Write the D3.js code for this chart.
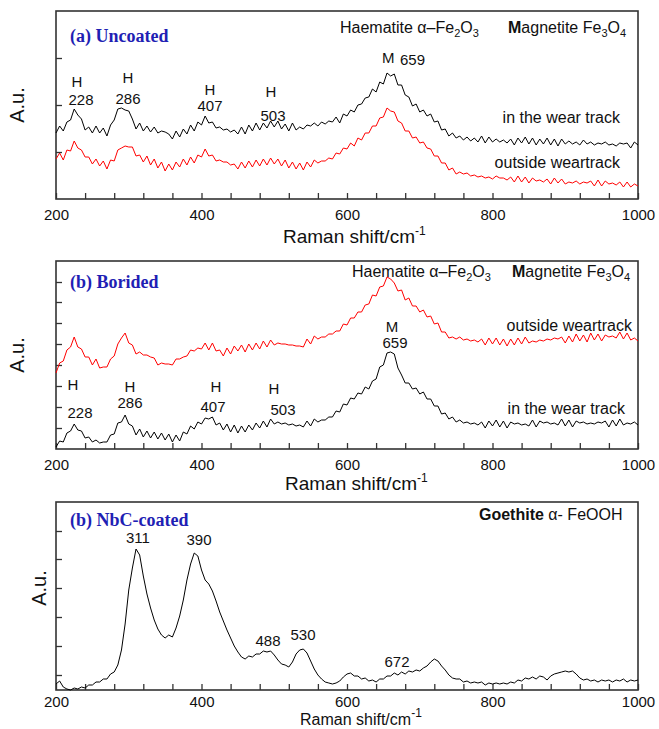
<!DOCTYPE html>
<html>
<head>
<meta charset="utf-8">
<script src="https://cdn.jsdelivr.net/npm/d3@7"></script>
<style>
body{margin:0;background:#fff;}
text{fill:#111;}
</style>
</head>
<body>
<script>
//raman shift grid, one reading every 5 cm-1
var wn = d3.range(200, 1001, 5);

//(a) uncoated
var uncoatedInTrack = [66,73,68,77,79,90,84,80,69,72,66,
	73,66,71,63,74,79,90,91,89,88,
	80,70,76,68,73,67,72,66,68,67,
	65,60,68,62,70,65,74,68,77,74,
	83,76,77,71,72,69,70,67,69,65,
	72,65,74,68,76,69,76,71,78,72,
	78,70,75,68,76,69,72,70,74,73,
	76,73,77,75,78,77,82,76,85,83,
	89,87,94,95,101,102,110,107,117,115,
	126,123,125,114,114,104,102,93,95,87,
	89,83,85,77,78,69,70,63,66,61,
	63,59,62,58,61,57,63,56,62,57,
	60,57,59,56,60,54,61,56,62,55,
	61,54,60,55,61,54,60,53,60,55,
	58,55,57,54,59,55,57,54,56,55,
	57,54,55,53,56,55,56,51,57,54];
var uncoatedOutside = [40,46,39,49,48,58,51,49,42,42,35,
	40,33,38,30,39,38,49,51,53,52,
	52,43,44,37,43,34,40,31,37,28,
	35,29,37,32,40,34,42,36,44,42,
	50,43,44,38,39,37,37,34,35,30,
	37,31,38,32,39,33,40,34,41,35,
	40,33,39,31,37,30,36,29,37,32,
	39,36,38,38,41,40,46,45,51,50,
	56,53,61,59,66,66,73,73,81,82,
	91,88,87,78,76,68,68,61,62,56,
	57,51,50,43,43,36,36,29,31,25,
	27,25,26,23,24,22,23,21,22,20,
	23,21,21,19,22,17,23,17,22,16,
	21,18,19,17,20,15,21,16,20,15,
	17,16,18,15,17,16,18,13,19,13,
	18,15,16,14,17,12,17,12,15,13];

//(b) borided
var boridedOutside = [76,86,88,99,102,112,102,100,92,92,84,
	90,81,82,82,90,93,105,111,116,106,
	104,95,97,94,94,92,91,84,86,85,
	85,84,90,90,92,93,99,98,101,100,
	106,99,106,98,99,93,101,95,103,98,
	104,97,105,99,106,100,108,102,109,104,
	106,105,105,104,104,103,103,102,110,105,
	113,110,112,112,115,115,118,118,125,124,
	131,131,137,137,144,145,154,153,162,163,
	172,170,166,158,159,149,151,143,143,137,
	139,132,133,125,126,117,117,111,112,110,
	112,109,110,108,109,107,110,104,111,105,
	111,104,110,103,110,104,111,105,112,106,
	108,107,109,108,110,109,111,110,112,106,
	113,107,115,108,114,107,116,109,115,108,
	114,112,113,111,117,110,116,109,111,108];
var boridedInTrack = [2,8,7,16,18,25,19,18,11,12,7,
	9,6,7,7,14,15,26,27,34,25,
	23,14,20,12,18,11,17,10,16,9,
	15,7,14,8,17,15,23,20,27,25,
	31,30,32,24,26,19,25,17,24,16,
	23,17,24,19,26,21,28,22,30,25,
	27,25,26,24,25,23,24,22,28,23,
	30,27,29,29,32,32,38,37,45,44,
	51,50,56,55,62,60,68,70,82,84,
	96,97,95,81,74,66,66,60,61,55,
	57,50,50,43,43,35,36,30,32,27,
	29,26,27,25,26,24,27,21,28,23,
	29,22,28,21,27,25,26,24,25,23,
	29,22,28,26,27,25,26,24,30,23,
	29,22,28,26,27,25,26,25,27,26,
	28,22,29,23,30,24,26,25,27,24];

//(c) NbC coated
var nbcCoated = [6,9,3,1,0,2,1,3,2,5,5,
	8,8,11,11,16,18,25,40,66,100,
	122,141,135,114,96,82,70,61,55,52,
	55,53,62,74,90,110,126,137,134,120,
	110,106,99,89,78,69,60,52,44,38,
	33,31,34,33,36,36,39,38,39,35,
	30,26,25,23,28,36,40,41,37,29,
	21,15,11,8,7,6,7,9,13,16,
	17,14,14,11,12,9,10,8,11,11,
	14,14,17,15,18,16,19,18,20,19,
	22,24,28,31,29,24,20,15,12,11,
	11,8,9,7,8,7,8,5,7,6,
	7,6,7,6,8,7,10,9,12,11,
	13,11,14,13,10,14,16,17,18,19,
	18,19,16,12,10,11,9,10,8,10,
	9,10,8,10,9,11,8,10,9,10];

var xTicks = [200,240,280,320,360,400,440,480,520,560,600,640,680,720,760,800,840,880,920,960,1000];
var xTickLabels = [200,400,600,800,1000];
var yTicksA = [47,94,141];
var yTicksB = [21,42,63,84,105,126,147,167];
var yTicksC = [15,44,73,102,131,159];

var sans = 'Liberation Sans, Arial, sans-serif';
var svg = d3.select('body').append('svg').attr('width',659).attr('height',729)
	.style('font-family',sans);
var x = d3.scaleLinear().domain([200,1000]).range([56,638]);

//draw frame, axes and return the y scale
function drawPanel(top,bottom,yTicks,pad){
	var y = d3.scaleLinear().domain([0,188]).range([bottom,top]);
	var g = svg.append('g');
	var xa = g.append('g').attr('transform','translate(0,' + bottom + ')')
		.call(d3.axisBottom(x).tickValues(xTicks).tickSize(-6).tickPadding(pad||10)
			.tickFormat(function(d){return xTickLabels.indexOf(d) !== -1 ? d : ''}));
	g.append('g').attr('transform','translate(56,0)')
		.call(d3.axisLeft(y).tickValues(yTicks).tickSize(-6).tickFormat(''));
	g.selectAll('.domain').remove();
	g.selectAll('.tick line').attr('stroke','#333').attr('stroke-width',1.3);
	xa.selectAll('text').attr('font-size',15).attr('font-family',sans).attr('fill','#111');
	g.append('rect').attr('x',56).attr('y',top).attr('width',582).attr('height',bottom-top)
		.attr('fill','none').attr('stroke','#333').attr('stroke-width',1.6);
	return y;
}

function drawLine(y,values,color){
	var line = d3.line().x(function(d,i){return x(wn[i])}).y(function(d){return y(d)});
	svg.append('path').datum(values).attr('d',line).attr('fill','none')
		.attr('stroke',color).attr('stroke-width',1).attr('stroke-linejoin','round');
}

function txt(xp,yp,s,size,anchor){
	return svg.append('text').attr('x',xp).attr('y',yp).attr('font-size',size||15)
		.attr('text-anchor',anchor||'start').text(s);
}

function title(yp,s){
	svg.append('text').attr('x',70).attr('y',yp).style('font-family','Liberation Serif, serif')
		.attr('font-weight','bold').attr('font-size',18).style('fill','#1f1fb4').text(s);
}

function xLabel(xp,yp,size){
	var t = svg.append('text').attr('x',xp).attr('y',yp).attr('font-size',size||19);
	t.append('tspan').text('Raman shift/cm');
	t.append('tspan').attr('dy',-8).attr('font-size',12).text('-1');
}

function yLabel(xp,yp){
	svg.append('text').attr('transform','translate(' + xp + ',' + yp + ') rotate(-90)')
		.attr('text-anchor','middle').attr('font-size',20).text('A.u.');
}

function oxides(xh,xm,yp){
	var t = svg.append('text').attr('x',xh).attr('y',yp).attr('font-size',16);
	t.append('tspan').text('Haematite α–Fe');
	t.append('tspan').attr('dy',4).attr('font-size',11).text('2');
	t.append('tspan').attr('dy',-4).text('O');
	t.append('tspan').attr('dy',4).attr('font-size',11).text('3');
	var m = svg.append('text').attr('x',xm).attr('y',yp).attr('font-size',16);
	m.append('tspan').attr('font-weight','bold').text('M');
	m.append('tspan').text('agnetite Fe');
	m.append('tspan').attr('dy',4).attr('font-size',11).text('3');
	m.append('tspan').attr('dy',-4).text('O');
	m.append('tspan').attr('dy',4).attr('font-size',11).text('4');
}

//(a) uncoated
var ya = drawPanel(11,199,yTicksA);
drawLine(ya,uncoatedOutside,'#ff0000');
drawLine(ya,uncoatedInTrack,'#000');
title(42,'(a) Uncoated');
oxides(340,508,33);
txt(77,87,'H',15,'middle'); txt(81,105,'228',15,'middle');
txt(128,83,'H',15,'middle'); txt(128,104,'286',15,'middle');
txt(210,95,'H',15,'middle'); txt(210,111,'407',15,'middle');
txt(271,97,'H',15,'middle'); txt(273,121,'503',15,'middle');
txt(382,63,'M',15); txt(400,65,'659',15);
txt(620,123,'in the wear track',16,'end');
txt(620,168,'outside weartrack',16,'end');
xLabel(283,243);
yLabel(24,105);

//(b) borided
var yb = drawPanel(261,449,yTicksB);
drawLine(yb,boridedOutside,'#ff0000');
drawLine(yb,boridedInTrack,'#000');
title(288,'(b) Borided');
oxides(352,512,277);
txt(73,390,'H',15,'middle'); txt(80,418,'228',15,'middle');
txt(130,392,'H',15,'middle'); txt(130,408,'286',15,'middle');
txt(216,392,'H',15,'middle'); txt(213,412,'407',15,'middle');
txt(274,394,'H',15,'middle'); txt(283,415,'503',15,'middle');
txt(392,332,'M',15,'middle'); txt(395,348,'659',15,'middle');
txt(632,331,'outside weartrack',16,'end');
txt(625,414,'in the wear track',16,'end');
xLabel(285,490);
yLabel(24,355);

//(c) NbC coated
var yc = drawPanel(502,690,yTicksC,6);
drawLine(yc,nbcCoated,'#000');
title(526,'(b) NbC-coated');
var gt = svg.append('text').attr('x',479).attr('y',520).attr('font-size',16);
gt.append('tspan').attr('font-weight','bold').text('Goethite');
gt.append('tspan').text(' α- FeOOH');
txt(138,543,'311',15,'middle');
txt(199,545,'390',15,'middle');
txt(268,646,'488',15,'middle');
txt(303,640,'530',15,'middle');
txt(397,667,'672',15,'middle');
xLabel(300,725,16);
yLabel(46,588);
</script>
</body>
</html>
